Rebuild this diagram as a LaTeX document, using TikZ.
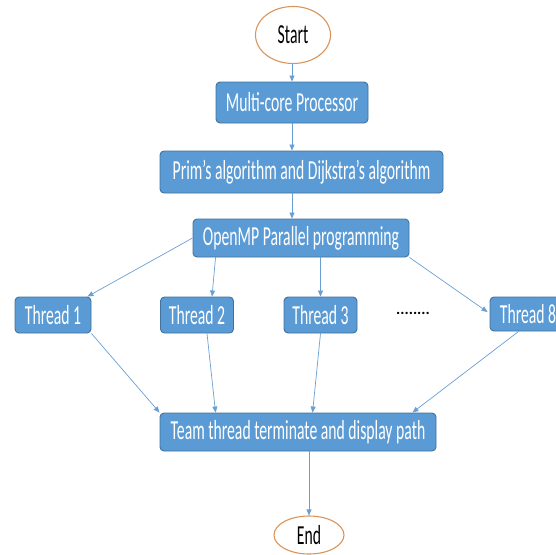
\documentclass[tikz,border=0pt]{standalone}
\usepackage{fontspec}
\usepackage{graphicx}
\setmainfont{Carlito}
\usetikzlibrary{arrows.meta,shapes.geometric,calc}
\definecolor{boxblue}{HTML}{5B9BD5}
\definecolor{boxedge}{HTML}{41719C}
\definecolor{linkblue}{HTML}{6A9FD3}
\definecolor{ovaledge}{HTML}{D9955A}
\newcommand{\vtxt}[1]{\scalebox{1}[1.75]{#1}}
\begin{document}
\begin{tikzpicture}[x=1pt,y=-1pt,
  procbox/.style={draw=boxedge,fill=boxblue,line width=0.9pt,rounded corners=4pt,
    text=white,font=\fontsize{15.7}{18}\selectfont,inner sep=0pt,anchor=center},
  term/.style={ellipse,draw=ovaledge,fill=white,line width=1.1pt,text=black,
    font=\fontsize{15.7}{18}\selectfont,inner sep=0pt},
  link/.style={draw=linkblue,line width=0.7pt,-{Triangle[length=6pt,width=5pt]}}]
\useasboundingbox (0,0) rectangle (556,554);
\node[term,minimum width=75pt,minimum height=57pt] (start) at (293,35) {\vtxt{Start}};
\node[procbox,minimum width=152pt,minimum height=41pt] (mcp) at (292,102.5) {\vtxt{Multi-core Processor}};
\node[procbox,minimum width=283pt,minimum height=42pt] (prim) at (301.5,172) {\vtxt{Prim’s algorithm and Dijkstra’s algorithm}};
\node[procbox,minimum width=216pt,minimum height=38pt] (omp) at (301,238) {\vtxt{OpenMP Parallel programming}};
\node[procbox,minimum width=76pt,minimum height=36pt] (t1) at (53,315) {\vtxt{Thread 1}};
\node[procbox,minimum width=73pt,minimum height=36pt] (t2) at (197,315) {\vtxt{Thread 2}};
\node[procbox,minimum width=73pt,minimum height=36pt] (t3) at (320.5,315) {\vtxt{Thread 3}};
\node[procbox,minimum width=76pt,minimum height=34pt] (t8) at (528,314) {\vtxt{Thread 8}};
\node[font=\fontsize{15.7}{18}\selectfont\bfseries] (dots) at (413,313) {........};
\node[procbox,minimum width=276pt,minimum height=38pt] (team) at (298,432) {\vtxt{Team thread terminate and display path}};
\node[term,minimum width=70pt,minimum height=38pt] (end) at (309,535) {\vtxt{End}};
% connectors
\draw[link] (start.south -| mcp.north) -- (mcp.north);
\draw[link] (mcp.south) -- (mcp.south |- prim.north);
\draw[link] (mcp.south |- prim.south) -- (mcp.south |- omp.north);
\draw[link] (omp.west) -- ($(t1.north east)+(-4,0)$);
\draw[link] ($(omp.south west)+(23,0)$) -- ($(t2.north)+(15,0)$);
\draw[link] (t3.north |- omp.south) -- (t3.north);
\draw[link] (omp.south east) -- ($(t8.west)+(-2,-2)$);
\draw[link] (t1.south east) -- (team.north west);
\draw[link] ($(t2.south)+(10,0)$) -- ($(team.north west)+(56,0)$);
\draw[link] (t3.south) -- ($(team.north west)+(153,0)$);
\draw[link] ($(t8.south west)+(29,0)$) -- ($(team.north east)+(-24,0)$);
\draw[link] (end.north |- team.south) -- (end.north);
\end{tikzpicture}
\end{document}
